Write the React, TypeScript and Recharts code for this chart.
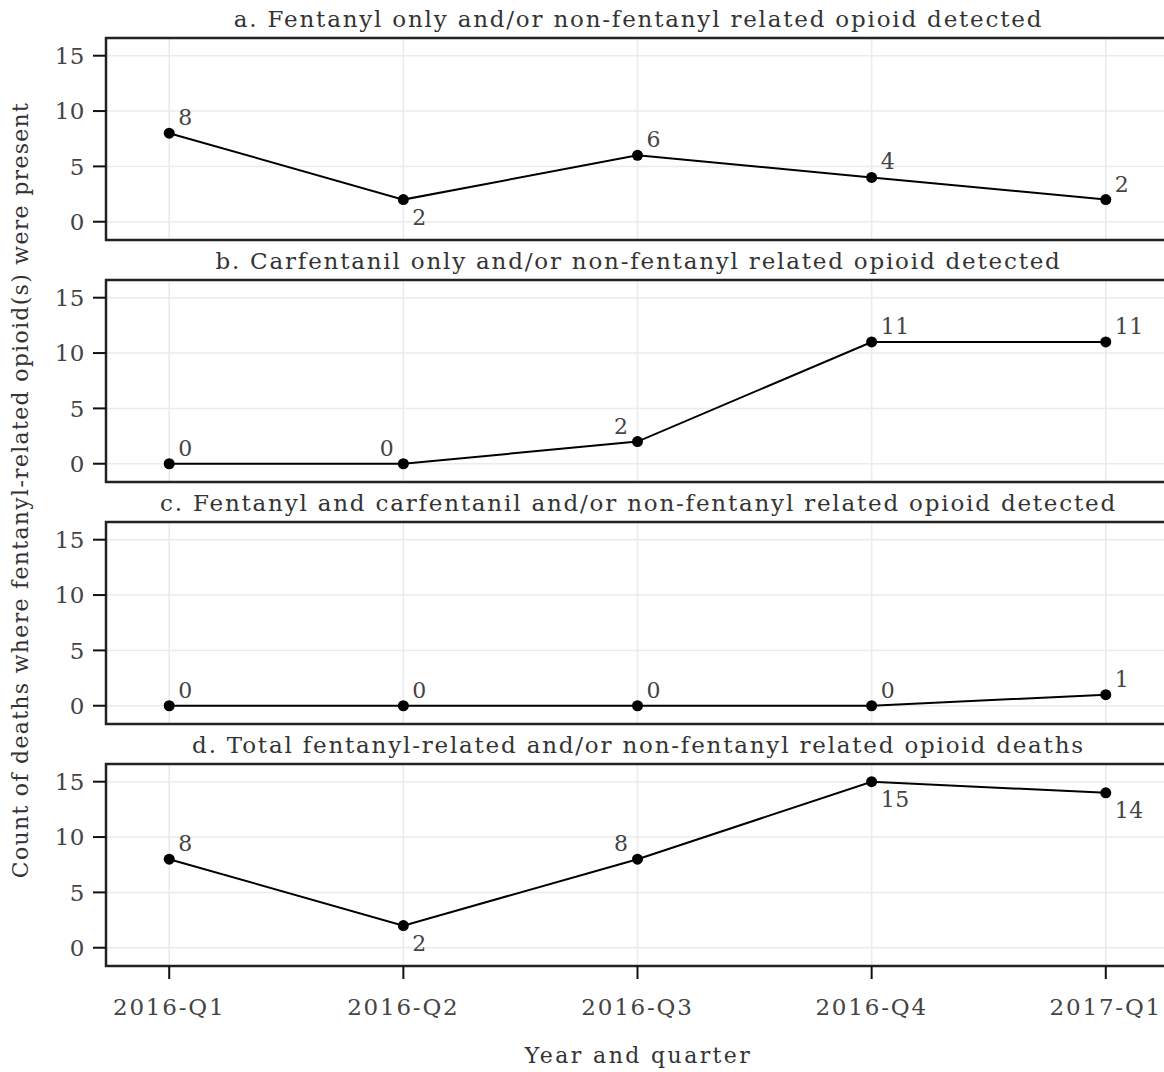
import React from 'react';
import { LineChart, Line, XAxis, YAxis, CartesianGrid, ReferenceArea, LabelList } from 'recharts';

const quarters = ['2016-Q1', '2016-Q2', '2016-Q3', '2016-Q4', '2017-Q1'];
const fentanylOnly = [8, 2, 6, 4, 2];
const carfentanilOnly = [0, 0, 2, 11, 11];
const fentanylAndCarfentanil = [0, 0, 0, 0, 1];
const totalDeaths = [8, 2, 8, 15, 14];
const yTicks = [0, 5, 10, 15];

const panelTitles = [
  'a. Fentanyl only and/or non-fentanyl related opioid detected',
  'b. Carfentanil only and/or non-fentanyl related opioid detected',
  'c. Fentanyl and carfentanil and/or non-fentanyl related opioid detected',
  'd. Total fentanyl-related and/or non-fentanyl related opioid deaths',
];
const panelSeries = [fentanylOnly, carfentanilOnly, fentanylAndCarfentanil, totalDeaths];
const labelPlacements = [
  ['ur', 'dr', 'ur', 'ur', 'ur'],
  ['ur', 'ul', 'ul', 'ur', 'ur'],
  ['ur', 'ur', 'ur', 'ur', 'ur'],
  ['ur', 'dr', 'ul', 'dr', 'dr'],
];

const FONT = '"DejaVu Serif", serif';
const TEXT = '#444444';
const X_DOMAIN = [-0.27, 4.27];
const Y_DOMAIN = [-1.65, 16.6];
const PANEL_STEP = 242;

function makeLabel(placements: string[]) {
  return (props: any) => {
    const { x, y, value, index } = props;
    const p = placements[index] || 'ur';
    const left = p === 'ul';
    const down = p === 'dr';
    return (
      <text
        x={left ? x - 9 : x + 9}
        y={down ? y + 25 : y - 8}
        textAnchor={left ? 'end' : 'start'}
        fontFamily={FONT}
        fontSize={22}
        letterSpacing={0.5}
        fill={TEXT}
      >
        {value}
      </text>
    );
  };
}

function Panel({ idx }: { idx: number }) {
  const values = panelSeries[idx];
  const data = quarters.map((q, i) => ({ i, q, v: values[i] }));
  const last = idx === 3;
  const height = last ? 1072 - PANEL_STEP * 3 : PANEL_STEP;
  return (
    <div style={{ position: 'absolute', left: 0, top: PANEL_STEP * idx }}>
      <LineChart
        width={1170}
        height={height}
        data={data}
        margin={{ top: 38, right: 1, bottom: last ? 46 : 2, left: 0 }}
      >
        <CartesianGrid stroke="#ebebeb" strokeWidth={1.5} />
        <XAxis
          dataKey="i"
          type="number"
          domain={X_DOMAIN}
          ticks={[0, 1, 2, 3, 4]}
          allowDataOverflow
          hide={!last}
          height={last ? 60 : 0}
          tickFormatter={(v: number) => quarters[v]}
          tick={{ fontFamily: FONT, fontSize: 23, fill: TEXT, letterSpacing: 1.8 }}
          tickLine={{ stroke: '#111', strokeWidth: 2 }}
          axisLine={false}
          tickSize={13}
          tickMargin={20}
          interval={0}
        />
        <YAxis
          type="number"
          domain={Y_DOMAIN}
          ticks={yTicks}
          allowDataOverflow
          width={106}
          tick={{ fontFamily: FONT, fontSize: 23, fill: TEXT, letterSpacing: 0.5 }}
          tickLine={{ stroke: '#111', strokeWidth: 2 }}
          axisLine={false}
          tickSize={13}
          tickMargin={8}
        />
        <ReferenceArea
          x1={X_DOMAIN[0]}
          x2={X_DOMAIN[1]}
          y1={Y_DOMAIN[0]}
          y2={Y_DOMAIN[1]}
          fill="none"
          stroke="#222"
          strokeWidth={2.5}
          ifOverflow="visible"
        />
        <Line
          dataKey="v"
          stroke="#000"
          strokeWidth={2}
          dot={{ r: 5.5, fill: '#000', stroke: '#000', strokeWidth: 0 }}
          isAnimationActive={false}
        >
          <LabelList dataKey="v" content={makeLabel(labelPlacements[idx])} />
        </Line>
      </LineChart>
    </div>
  );
}

export default function App() {
  return (
    <div
      style={{
        position: 'absolute',
        left: 0,
        top: 0,
        width: 1164,
        height: 1072,
        overflow: 'hidden',
        background: '#fff',
      }}
    >
      {[0, 1, 2, 3].map((i) => (
        <Panel key={i} idx={i} />
      ))}
      <svg
        width={1164}
        height={1072}
        style={{ position: 'absolute', left: 0, top: 0, pointerEvents: 'none' }}
      >
        {panelTitles.map((t, i) => (
          <text
            key={i}
            x={638.5}
            y={PANEL_STEP * i + 27}
            textAnchor="middle"
            fontFamily={FONT}
            fontSize={23}
            letterSpacing={1.8}
            fill="#333"
          >
            {t}
          </text>
        ))}
        <text
          x={638.5}
          y={1063}
          textAnchor="middle"
          fontFamily={FONT}
          fontSize={22}
          letterSpacing={2.4}
          fill="#333"
        >
          Year and quarter
        </text>
        <text
          transform="translate(28, 490) rotate(-90)"
          textAnchor="middle"
          fontFamily={FONT}
          fontSize={22}
          letterSpacing={1.3}
          fill="#333"
        >
          Count of deaths where fentanyl-related opioid(s) were present
        </text>
      </svg>
    </div>
  );
}
